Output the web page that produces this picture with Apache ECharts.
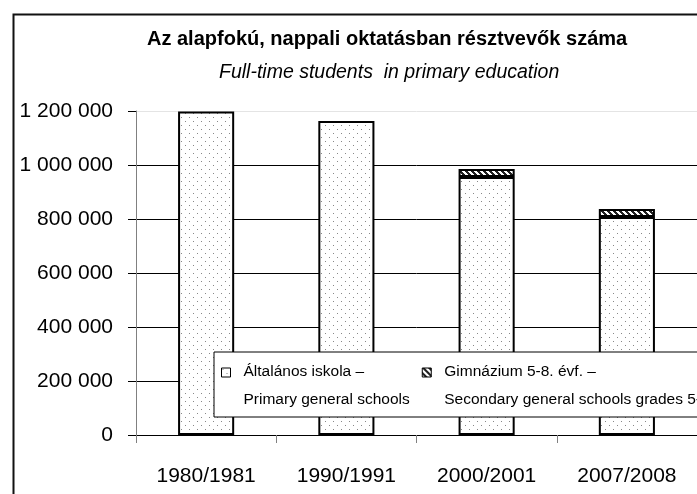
<!DOCTYPE html>
<html><head><meta charset="utf-8">
<script src="https://cdn.jsdelivr.net/npm/echarts@6/dist/echarts.min.js"></script>
<style>html,body{margin:0;padding:0;background:#fff}#c{width:697px;height:494px}</style>
</head><body><div id="c"></div>
<script>
const categories = ['1980/1981', '1990/1991', '2000/2001', '2007/2008'];
const primarySchools = [1198000, 1163000, 956000, 807000];
const gymnasium = [null, null, 29000, 30000];
const yTicks = [0, 200000, 400000, 600000, 800000, 1000000, 1200000];
const seriesNames = ['Általános iskola –\nPrimary general schools', 'Gimnázium 5-8. évf. –\nSecondary general schools grades 5-8'];
const titleText = 'Az alapfokú, nappali oktatásban résztvevők száma';
const subtitleText = 'Full-time students  in primary education';

const FONT = '"Liberation Sans", Arial, sans-serif';

function dotPattern() {
  const c = document.createElement('canvas'); c.width = 8; c.height = 8;
  const g = c.getContext('2d');
  g.fillStyle = '#fff'; g.fillRect(0, 0, 8, 8);
  g.fillStyle = '#888';
  g.fillRect(1, 1, 1, 1); g.fillRect(5, 5, 1, 1);
  return c;
}
function hatchPattern() {
  const n = 6;
  const c = document.createElement('canvas'); c.width = n; c.height = n;
  const g = c.getContext('2d');
  for (let y = 0; y < n; y++) for (let x = 0; x < n; x++) {
    const k = ((x - y) % n + n) % n;
    g.fillStyle = k < 3 ? '#222' : '#fff';
    g.fillRect(x, y, 1, 1);
  }
  return c;
}
function fmt(v) { return String(v).replace(/\B(?=(\d{3})+(?!\d))/g, ' '); }

const chart = echarts.init(document.getElementById('c'), null, {renderer: 'canvas'});
const icon = 'path://M0,0h9v9h-9zM17,36';
chart.setOption({
  animation: false,
  backgroundColor: '#fff',
  title: [
    {text: titleText, left: 147, top: 29, padding: 0,
     textStyle: {fontFamily: FONT, fontSize: 20, fontWeight: 'bold', color: '#000'}},
    {text: subtitleText, left: 219, top: 63, padding: 0,
     textStyle: {fontFamily: FONT, fontSize: 19.5, fontWeight: 'normal', fontStyle: 'italic', color: '#000'}}
  ],
  graphic: [{type: 'rect', left: 11, top: 12, shape: {width: 800, height: 600},
    style: {fill: 'none', stroke: '#111', lineWidth: 2}, silent: true}],
  grid: {left: 136, right: -7, top: 111, bottom: 59, containLabel: false},
  legend: {
    left: 214, top: 352, width: 900, orient: 'horizontal',
    padding: [6, 200, 3, 7], itemGap: 12,
    backgroundColor: '#fff', borderColor: '#000', borderWidth: 1,
    itemWidth: 17, itemHeight: 36,
    itemStyle: {borderWidth: 1, borderColor: '#000'},
    textStyle: {fontFamily: FONT, fontSize: 15.5, lineHeight: 28, color: '#000'},
    data: [{name: seriesNames[0], icon: icon}, {name: seriesNames[1], icon: icon}],
    selectedMode: false
  },
  xAxis: {
    type: 'category', data: categories,
    axisLine: {lineStyle: {color: '#000', width: 1}},
    axisTick: {show: true, length: 8, lineStyle: {color: '#808080'}},
    axisLabel: {fontFamily: FONT, fontSize: 21, color: '#000', margin: 31}
  },
  yAxis: {
    type: 'value', min: 0, max: 1200000, interval: 200000,
    axisLine: {show: true, lineStyle: {color: '#808080'}},
    axisTick: {show: true, length: 8, lineStyle: {color: '#000'}},
    axisLabel: {fontFamily: FONT, fontSize: 21, color: '#000', margin: 23,
      formatter: function (v) { return yTicks.indexOf(v) >= 0 ? fmt(v) : ''; }},
    splitLine: {show: true, lineStyle: {color: ['#000', '#000', '#000', '#000', '#000', '#000', '#e4e4e4'], width: 1}}
  },
  series: [
    {name: seriesNames[0], type: 'bar', stack: 'total', data: primarySchools, barWidth: '40%',
     itemStyle: {color: {image: dotPattern(), repeat: 'repeat'}, borderColor: '#000', borderWidth: 2}},
    {name: seriesNames[1], type: 'bar', stack: 'total', data: gymnasium, barWidth: '40%',
     itemStyle: {color: {image: hatchPattern(), repeat: 'repeat'}, borderColor: '#000', borderWidth: 2}}
  ]
});
</script></body></html>
